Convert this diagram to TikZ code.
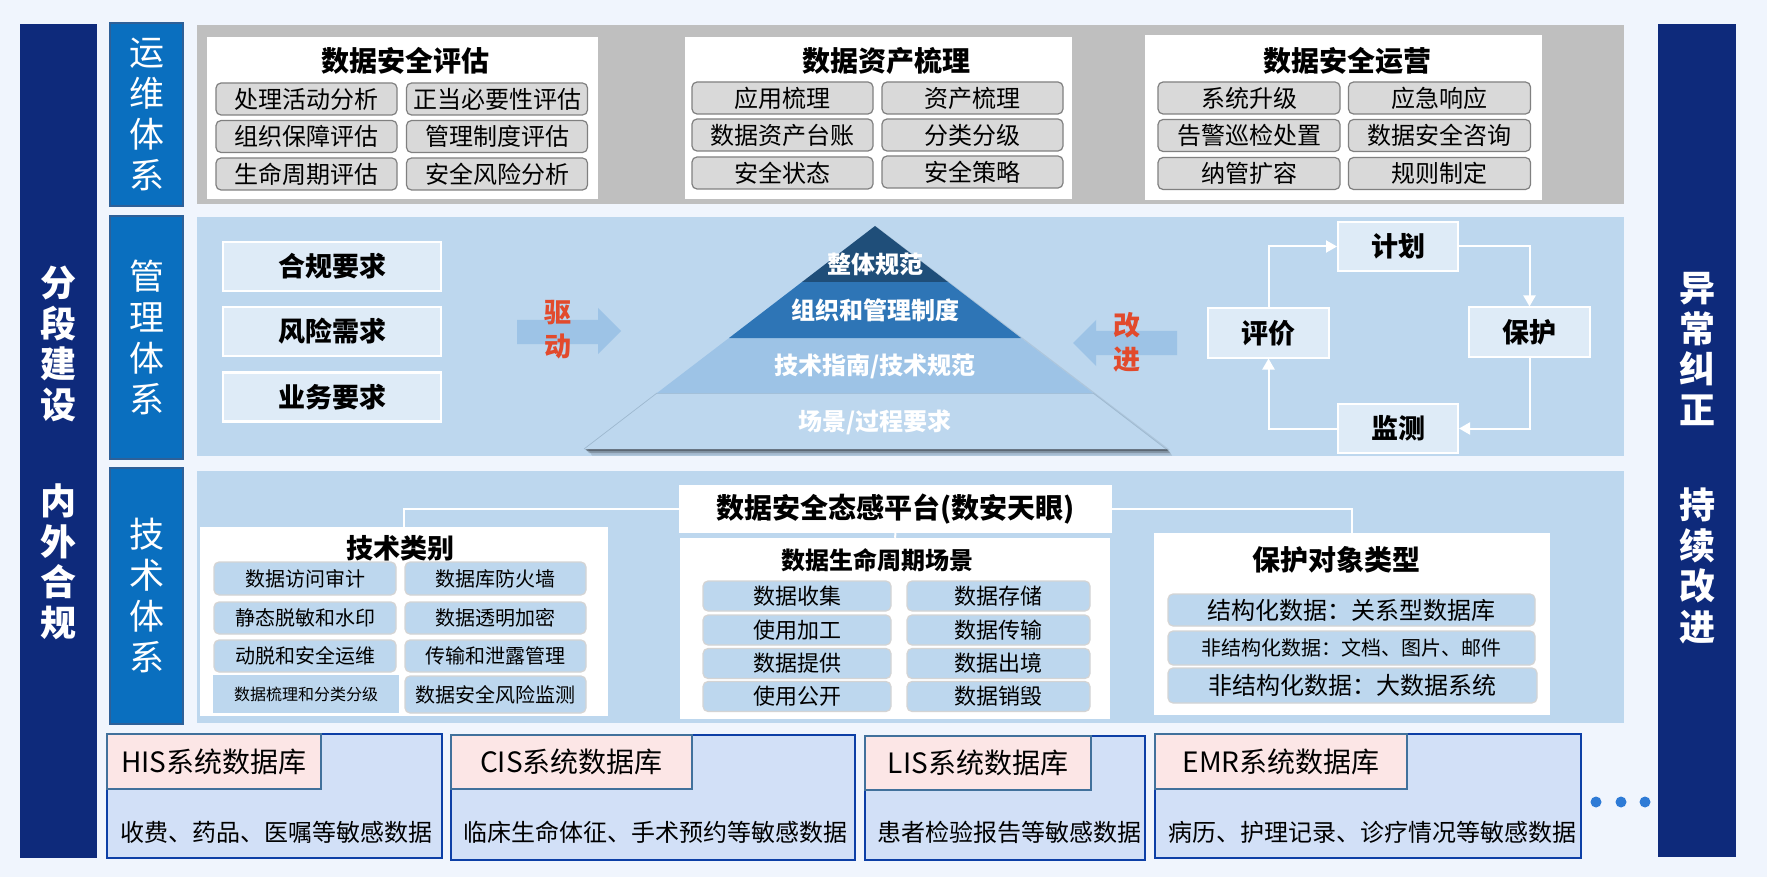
\documentclass[tikz,border=0pt]{standalone}
\usepackage{fontspec}
\setmainfont{Noto Sans CJK SC}
\usetikzlibrary{arrows.meta}
\definecolor{bg}{HTML}{F0F5FD}
\definecolor{navy}{HTML}{0E2A7B}
\definecolor{lblue}{HTML}{0A6FBF}
\definecolor{lbord}{HTML}{2E6098}
\definecolor{grayp}{HTML}{BFBFBF}
\definecolor{panel}{HTML}{BDD7EE}
\definecolor{itemg}{HTML}{D9D9D9}
\definecolor{itemgb}{HTML}{808080}
\definecolor{pale}{HTML}{DEEBF7}
\definecolor{arr}{HTML}{9DC3E6}
\definecolor{redt}{HTML}{E24A2C}
\definecolor{pya}{HTML}{1F4E79}
\definecolor{pyb}{HTML}{2E75B6}
\definecolor{pyc}{HTML}{9DC3E6}
\definecolor{pyd}{HTML}{BDD7EE}
\definecolor{dbfill}{HTML}{D2E0F7}
\definecolor{dbbord}{HTML}{0D3FA6}
\definecolor{hdfill}{HTML}{FCE6E6}
\definecolor{hdbord}{HTML}{41719C}
\definecolor{dotc}{HTML}{2E7BD6}
\definecolor{tbord}{HTML}{D4D4D4}
\newcommand\fsz[1]{\fontsize{#1}{#1}\selectfont}
\tikzset{
  bar/.style={fill=navy, draw=none, inner sep=0pt},
  bartxt/.style={text=white, align=center, inner sep=0pt, font=\fontsize{36}{40.5}\selectfont\bfseries},
  lbl/.style={fill=lblue, draw=lbord, line width=1.5pt, minimum width=73pt, inner sep=0pt, text=white, align=center, font=\fontsize{35}{41}\selectfont},
  wbox/.style={fill=white, draw=none, inner sep=0pt},
  pnl/.style={fill=panel, draw=none, inner sep=0pt, minimum width=1427pt},
  gitem/.style={fill=itemg, draw=itemgb, line width=1.2pt, rounded corners=5pt, minimum width=181pt, minimum height=32pt, inner sep=0pt, font=\fsz{24}},
  ttl/.style={inner sep=0pt, font=\fsz{27}\bfseries},
  req/.style={fill=pale, draw=white, line width=2.5pt, minimum width=218pt, minimum height=49pt, inner sep=0pt, font=\fsz{27}\bfseries},
  cyc/.style={fill=pale, draw=white, line width=2pt, minimum width=120pt, minimum height=49pt, inner sep=0pt, font=\fsz{27}\bfseries},
  redtxt/.style={text=redt, align=center, inner sep=0pt, font=\fontsize{27}{34}\selectfont\bfseries},
  pytxt/.style={text=white, inner sep=0pt, font=\fsz{24}\bfseries},
  titem/.style={fill=panel, draw=tbord, line width=1.2pt, rounded corners=5pt, inner sep=0pt},
  db/.style={fill=dbfill, draw=dbbord, line width=2.2pt, inner sep=0pt},
  hd/.style={fill=hdfill, draw=hdbord, line width=2pt, inner sep=0pt, font=\fsz{28}},
  bodytxt/.style={inner sep=0pt, font=\fsz{24}},
  flow/.style={draw=white, line width=2pt, -{Triangle[width=12pt,length=11pt]}},
  conn/.style={draw=white, line width=2pt},
}
\begin{document}
\begin{tikzpicture}[x=1pt,y=-1pt]
\fill[bg] (0,0) rectangle (1767,877);
\useasboundingbox (0,0) rectangle (1767,877);

% side bars
\node[bar, minimum width=77pt, minimum height=834pt] (lbar) at (58.5,441) {};
\node[bar, minimum width=78pt, minimum height=833pt] (rbar) at (1697,440.5) {};
\node[bartxt] (lt1) at (58.5,344) {分\\段\\建\\设};
\node[bartxt] (lt2) at (58.5,562) {内\\外\\合\\规};
\node[bartxt] (rt1) at (1697,349) {异\\常\\纠\\正};
\node[bartxt] (rt2) at (1697,566) {持\\续\\改\\进};

% row labels
\node[lbl, minimum height=183pt] (l1) at (146.5,114.5) {运\\维\\体\\系};
\node[lbl, minimum height=243pt] (l2) at (146.5,337.5) {管\\理\\体\\系};
\node[lbl, minimum height=256pt] (l3) at (146.5,596) {技\\术\\体\\系};

% panels
\node[pnl, fill=grayp, minimum height=179pt] (p1) at (910.5,114.5) {};
\node[pnl, minimum height=239pt] (p2) at (910.5,336.5) {};
\node[pnl, minimum height=252pt] (p3) at (910.5,597) {};

% ---------- row 1 ----------
\node[wbox, minimum width=391pt, minimum height=162pt] (ba) at (402.5,118) {};
\node[wbox, minimum width=387pt, minimum height=162pt] (bb) at (878.5,118) {};
\node[wbox, minimum width=397pt, minimum height=165pt] (bc) at (1343.5,117.5) {};
\node[ttl, font=\fsz{28}\bfseries] (ta) at (405,61) {数据安全评估};
\node[ttl, font=\fsz{28}\bfseries] (tb) at (886,61) {数据资产梳理};
\node[ttl, font=\fsz{28}\bfseries] (tc) at (1347,61) {数据安全运营};

\node[gitem] (a1) at (306.5,99) {处理活动分析};
\node[gitem] (a2) at (497,99) {正当必要性评估};
\node[gitem] (a3) at (306.5,136.5) {组织保障评估};
\node[gitem] (a4) at (497,136.5) {管理制度评估};
\node[gitem] (a5) at (306.5,174) {生命周期评估};
\node[gitem] (a6) at (497,174) {安全风险分析};

\node[gitem] (b1) at (782.5,98) {应用梳理};
\node[gitem] (b2) at (972.5,98) {资产梳理};
\node[gitem] (b3) at (782.5,135) {数据资产台账};
\node[gitem] (b4) at (972.5,135) {分类分级};
\node[gitem] (b5) at (782.5,173) {安全状态};
\node[gitem] (b6) at (972.5,172) {安全策略};

\node[gitem, minimum width=182pt] (c1) at (1249,98) {系统升级};
\node[gitem, minimum width=182pt] (c2) at (1439.5,98) {应急响应};
\node[gitem, minimum width=182pt] (c3) at (1249,135.5) {告警巡检处置};
\node[gitem, minimum width=182pt] (c4) at (1439.5,135.5) {数据安全咨询};
\node[gitem, minimum width=182pt] (c5) at (1249,173.5) {纳管扩容};
\node[gitem, minimum width=182pt] (c6) at (1439.5,173.5) {规则制定};

% ---------- row 2 ----------
\node[req] (r1) at (332,266.5) {合规要求};
\node[req] (r2) at (332,331.5) {风险需求};
\node[req] (r3) at (332,397) {业务要求};

\fill[arr] (517,320) -- (598,320) -- (598,308) -- (621,331) -- (598,354) -- (598,344) -- (517,344) -- cycle;
\node[redtxt] (qd) at (558,330) {驱\\动};

% pyramid with soft shadow
\fill[black, opacity=0.12] (588,449) -- (1168,449) -- (1172,455.5) -- (592,455.5) -- cycle;
\fill[black, opacity=0.2] (586,449) -- (1167,449) -- (1170,453) -- (589,453) -- cycle;
\fill[black, opacity=0.3] (585,449) -- (1166,449) -- (1168,451) -- (587,451) -- cycle;
\fill[black, opacity=0.08] (875,226) -- (1166,449) -- (1170,450) -- (877,227) -- cycle;
\fill[pyd] (657,393) -- (584,449) -- (1166,449) -- (1093,393) -- cycle;
\draw[pyc!70!black!40!pyd, line width=0.7pt] (657,393) -- (584,449) (1166,449) -- (1093,393);
\fill[pyc] (729,338) -- (657,393) -- (1093,393) -- (1021,338) -- cycle;
\draw[pyc!80!black, opacity=0.35, line width=0.8pt] (657,393.5) -- (1093,393.5);
\fill[pyb] (802,282) -- (729,338) -- (1021,338) -- (948,282) -- cycle;
\fill[pya] (875,226) -- (802,282) -- (948,282) -- cycle;
\node[pytxt] (py1) at (875,264) {整体规范};
\node[pytxt] (py2) at (875,310) {组织和管理制度};
\node[pytxt] (py3) at (875,366) {技术指南/技术规范};
\node[pytxt] (py4) at (875,422) {场景/过程要求};

\fill[arr] (1177,331) -- (1096,331) -- (1096,320) -- (1073,343) -- (1096,366) -- (1096,355) -- (1177,355) -- cycle;
\node[redtxt] (gj) at (1127,342) {改\\进};

% cycle
\node[cyc] (jh) at (1398,246.5) {计划};
\node[cyc, minimum width=121pt] (pj) at (1268.5,333) {评价};
\node[cyc, minimum width=121pt] (bh) at (1529.5,332) {保护};
\node[cyc] (jc) at (1398,428.5) {监测};
\draw[flow] (pj.north) |- (jh.west);
\draw[flow] (jh.east) -| (bh.north);
\draw[flow] (bh.south) |- (jc.east);
\draw[flow] (jc.west) -| (pj.south);

% ---------- row 3 ----------
\node[wbox, minimum width=408pt, minimum height=189pt] (js) at (404,621.5) {};
\node[wbox, minimum width=433pt, minimum height=48pt, font=\fsz{28}\bfseries] (plat) at (895.5,509) {数据安全态感平台(数安天眼)};
\node[wbox, minimum width=430pt, minimum height=181pt] (life) at (895,628.5) {};
\node[wbox, minimum width=396pt, minimum height=182pt] (obj) at (1352,624) {};
\draw[conn] (js.north) |- (plat.west);
\draw[conn] (plat.east) -| (obj.north);
\draw[conn] (plat.south) -- (life.north);

\node[ttl] (tjs) at (400,548) {技术类别};
\node[titem, minimum width=182pt, minimum height=33pt, font=\fsz{20}] (j1) at (305,578.5) {数据访问审计};
\node[titem, minimum width=181pt, minimum height=33pt, font=\fsz{20}] (j2) at (495.5,578.5) {数据库防火墙};
\node[titem, minimum width=182pt, minimum height=32pt, font=\fsz{20}] (j3) at (305,618) {静态脱敏和水印};
\node[titem, minimum width=181pt, minimum height=32pt, font=\fsz{20}] (j4) at (495.5,618) {数据透明加密};
\node[titem, minimum width=182pt, minimum height=32pt, font=\fsz{20}] (j5) at (305,656) {动脱和安全运维};
\node[titem, minimum width=181pt, minimum height=32pt, font=\fsz{20}] (j6) at (495.5,656) {传输和泄露管理};
\node[fill=panel, inner sep=0pt, minimum width=186pt, minimum height=38pt, font=\fsz{16}] (j7) at (306,694) {数据梳理和分类分级};
\node[titem, minimum width=181pt, minimum height=37pt, font=\fsz{20}] (j8) at (495.5,694.5) {数据安全风险监测};

\node[ttl, font=\fsz{24}\bfseries] (tlife) at (877,560) {数据生命周期场景};
\node[titem, minimum width=188pt, minimum height=30pt, font=\fsz{22}] (s1) at (797,596) {数据收集};
\node[titem, minimum width=183pt, minimum height=30pt, font=\fsz{22}] (s2) at (998.5,596) {数据存储};
\node[titem, minimum width=188pt, minimum height=30pt, font=\fsz{22}] (s3) at (797,630) {使用加工};
\node[titem, minimum width=183pt, minimum height=30pt, font=\fsz{22}] (s4) at (998.5,630) {数据传输};
\node[titem, minimum width=188pt, minimum height=30pt, font=\fsz{22}] (s5) at (797,663.5) {数据提供};
\node[titem, minimum width=183pt, minimum height=30pt, font=\fsz{22}] (s6) at (998.5,663.5) {数据出境};
\node[titem, minimum width=188pt, minimum height=30pt, font=\fsz{22}] (s7) at (797,696.5) {使用公开};
\node[titem, minimum width=183pt, minimum height=30pt, font=\fsz{22}] (s8) at (998.5,696.5) {数据销毁};

\node[ttl, font=\fsz{28}\bfseries] (tobj) at (1336,560) {保护对象类型};
\node[titem, minimum width=367pt, minimum height=32pt, font=\fsz{24}] (o1) at (1351.5,610) {结构化数据：关系型数据库};
\node[titem, minimum width=367pt, minimum height=34pt, font=\fsz{20}] (o2) at (1351.5,648) {非结构化数据：文档、图片、邮件};
\node[titem, minimum width=369pt, minimum height=35pt, font=\fsz{24}] (o3) at (1352.5,685.5) {非结构化数据：大数据系统};

% ---------- bottom databases ----------
\node[db, minimum width=335pt, minimum height=124pt] (his) at (274.5,796) {};
\node[hd, minimum width=214pt, minimum height=55pt] (hish) at (214,761.5) {HIS系统数据库};
\node[bodytxt] (hisb) at (276,832) {收费、药品、医嘱等敏感数据};

\node[db, minimum width=404pt, minimum height=125pt] (cis) at (653,797.5) {};
\node[hd, minimum width=241pt, minimum height=54pt] (cish) at (571.5,762) {CIS系统数据库};
\node[bodytxt] (cisb) at (655,832) {临床生命体征、手术预约等敏感数据};

\node[db, minimum width=280pt, minimum height=124pt] (lis) at (1005,798) {};
\node[hd, minimum width=226pt, minimum height=54pt] (lish) at (978,763) {LIS系统数据库};
\node[bodytxt] (lisb) at (1009,832) {患者检验报告等敏感数据};

\node[db, minimum width=426pt, minimum height=124pt] (emr) at (1368,796) {};
\node[hd, minimum width=252pt, minimum height=55pt] (emrh) at (1281,761.5) {EMR系统数据库};
\node[bodytxt] (emrb) at (1372,832) {病历、护理记录、诊疗情况等敏感数据};

\node[circle, fill=dotc, minimum size=11pt, inner sep=0pt] (d1) at (1596,802) {};
\node[circle, fill=dotc, minimum size=11pt, inner sep=0pt] (d2) at (1621,802) {};
\node[circle, fill=dotc, minimum size=11pt, inner sep=0pt] (d3) at (1645,802) {};
\end{tikzpicture}
\end{document}
